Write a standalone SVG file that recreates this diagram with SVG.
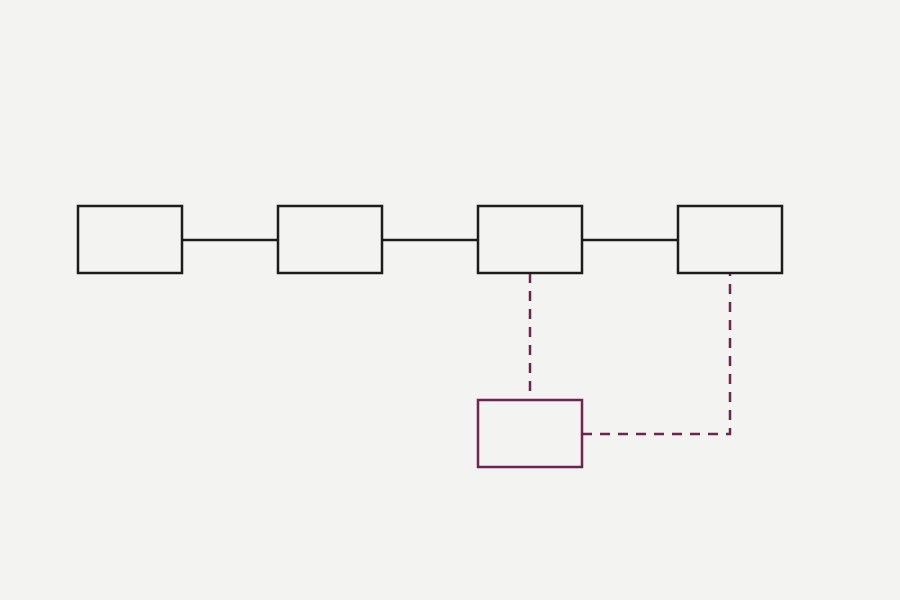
<svg xmlns="http://www.w3.org/2000/svg" width="900" height="600" viewBox="0 0 900 600">
<style>
.node{fill:#f3f3f2;stroke:#1c1c1c;stroke-width:2.5}
.alt{fill:#f3f3f2;stroke:#6e2352;stroke-width:2.5}
.solid{stroke:#1c1c1c;stroke-width:2.5;fill:none}
.dash{stroke:#6e2352;stroke-width:2.5;fill:none;stroke-dasharray:10 8}
</style>
<rect width="900" height="600" fill="#f3f3f2"/>
<g id="connectors">
<line class="solid" x1="182" y1="240" x2="278" y2="240"/>
<line class="solid" x1="382" y1="240" x2="478" y2="240"/>
<line class="solid" x1="582" y1="240" x2="678" y2="240"/>
<line class="dash" x1="530" y1="273" x2="530" y2="400"/>
<polyline class="dash" points="582,434 730,434 730,273"/>
</g>
<g id="n1"><rect class="node" x="78" y="206" width="104" height="67"/></g>
<g id="n2"><rect class="node" x="278" y="206" width="104" height="67"/></g>
<g id="n3"><rect class="node" x="478" y="206" width="104" height="67"/></g>
<g id="n4"><rect class="node" x="678" y="206" width="104" height="67"/></g>
<g id="n5"><rect class="alt" x="478" y="400" width="104" height="67"/></g>
</svg>
